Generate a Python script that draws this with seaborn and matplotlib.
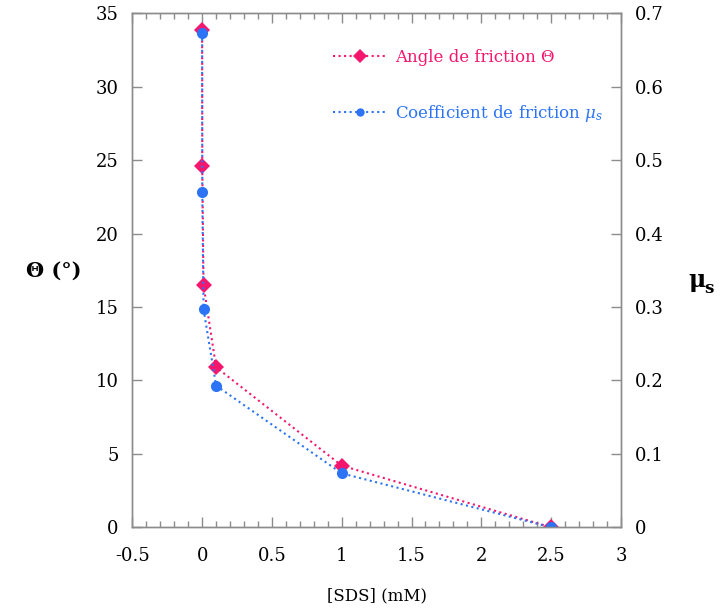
import matplotlib
matplotlib.use("Agg")
import matplotlib.pyplot as plt
import seaborn as sns
import pandas as pd
from matplotlib.ticker import MultipleLocator
from matplotlib.lines import Line2D

# Data
sds = [0.0, 0.001, 0.01, 0.1, 1.0, 2.5]
theta = [33.9, 24.6, 16.5, 10.9, 4.2, 0.0]
mu_s = [0.673, 0.457, 0.297, 0.193, 0.0735, 0.0]

x_ticks = [-0.5, 0, 0.5, 1, 1.5, 2, 2.5, 3]
x_tick_labels = ["-0.5", "0", "0.5", "1", "1.5", "2", "2.5", "3"]
y_ticks = [0, 5, 10, 15, 20, 25, 30, 35]
y2_ticks = [0, 0.1, 0.2, 0.3, 0.4, 0.5, 0.6, 0.7]
y2_tick_labels = ["0", "0.1", "0.2", "0.3", "0.4", "0.5", "0.6", "0.7"]

pink = "#F5166E"
blue = "#2C74F5"
spine_col = "#8C8C8C"

sns.set_theme(style="white")
plt.rcParams["font.family"] = ["DejaVu Serif"]
plt.rcParams["mathtext.fontset"] = "dejavuserif"
plt.rcParams["text.color"] = "black"
plt.rcParams["axes.labelcolor"] = "black"

df = pd.DataFrame({"sds": sds, "theta": theta, "mu": mu_s})

fig = plt.figure(figsize=(7.22, 6.11), dpi=100)
ax = fig.add_axes([0.1833, 0.137, 0.860 - 0.1833, 0.978 - 0.137])
ax2 = ax.twinx()

sns.lineplot(data=df, x="sds", y="theta", ax=ax, color=pink, linestyle=":",
             linewidth=1.5, marker="D", markersize=8, markeredgewidth=0,
             estimator=None, sort=False)
sns.lineplot(data=df, x="sds", y="mu", ax=ax2, color=blue, linestyle=":",
             linewidth=1.5, marker="o", markersize=8, markeredgewidth=0,
             estimator=None, sort=False)

ax.set_xlim(-0.5, 3)
ax.set_ylim(0, 35)
ax2.set_ylim(0, 0.7)
ax.set_xticks(x_ticks)
ax.set_xticklabels(x_tick_labels)
ax.set_yticks(y_ticks)
ax.set_yticklabels([str(v) for v in y_ticks])
ax2.set_yticks(y2_ticks)
ax2.set_yticklabels(y2_tick_labels)
ax.xaxis.set_minor_locator(MultipleLocator(0.1))

for a in (ax, ax2):
    for s in a.spines.values():
        s.set_color(spine_col)
        s.set_linewidth(1.0)

ax.tick_params(axis="x", which="major", direction="in", length=7, width=1,
               color=spine_col, top=True, bottom=True, labelsize=13,
               labelcolor="black", pad=14)
ax.tick_params(axis="x", which="minor", direction="in", length=4, width=1,
               color=spine_col, top=True, bottom=True)
ax.tick_params(axis="y", which="major", direction="in", length=7, width=1,
               color=spine_col, left=True, labelsize=13, labelcolor="black", pad=10)
ax2.tick_params(axis="y", which="major", direction="in", length=7, width=1,
                color=spine_col, right=True, labelsize=13, labelcolor="black", pad=10)

ax.set_xlabel("[SDS] (mM)", fontsize=12, labelpad=16, color="black")
ax.set_ylabel("Θ (°)", fontsize=15, fontweight="bold", rotation=0,
              labelpad=0, color="black")
ax.yaxis.set_label_coords(-0.16, 0.48)
ax2.set_ylabel("μ", fontsize=17, fontweight="bold", rotation=0, color="black")
ax2.yaxis.set_label_coords(1.155, 0.505)
fig.text(0.982, 0.528, "s", fontsize=12, fontweight="bold", ha="center",
         va="center", color="black")

handles = [
    Line2D([], [], color=pink, linestyle=":", linewidth=1.5, marker="D",
           markersize=7, markeredgewidth=0),
    Line2D([], [], color=blue, linestyle=":", linewidth=1.5, marker="o",
           markersize=6, markeredgewidth=0),
]
leg = ax.legend(handles, ["Angle de friction Θ", r"Coefficient de friction $\mu_s$"],
                loc="upper left", bbox_to_anchor=(0.38, 0.96), frameon=False,
                fontsize=12, labelspacing=2.2, handlelength=3.2, handletextpad=0.5)
for t, c in zip(leg.get_texts(), [pink, blue]):
    t.set_color(c)

fig.savefig("out.png", dpi=100)
